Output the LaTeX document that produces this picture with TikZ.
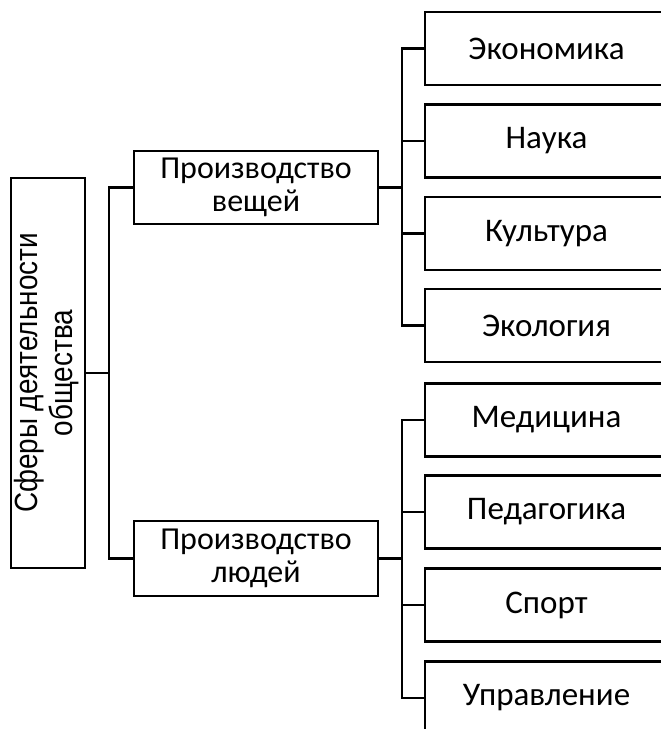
\documentclass[tikz,border=0pt]{standalone}
\usepackage{fontspec}
\newfontfamily\rootfont{Liberation Sans}
\newfontfamily\boxfont{Carlito}
\begin{document}
\begin{tikzpicture}[x=1pt,y=-1pt,
  line width=2.3pt,
  lbox/.style={draw, line width=2.3pt, inner sep=0pt, align=center,
    minimum width=244,
    font=\boxfont\fontsize{32}{33}\selectfont},
  rbox/.style={draw, line width=2.3pt, inner sep=0pt, align=center,
    minimum width=243, minimum height=73,
    font=\boxfont\fontsize{33}{36}\selectfont},
  conn/.style={line width=2.3pt}]
\useasboundingbox (0,0) rectangle (661,729);
\clip (0,0) rectangle (661,729);
% root
\node[draw, line width=2.3pt, inner sep=0pt, rotate=90, minimum width=390, minimum height=74,
  font=\rootfont\fontsize{27.9}{30.5}\selectfont] (root) at (48,373)
  {\raisebox{-3pt}{\scalebox{1}[1.15]{\begin{tabular}{@{}c@{}}Сферы деятельности\\общества\end{tabular}}}};
% level 1
\node[lbox, minimum height=73] (pv) at (256,187.5) {Производство\\вещей};
\node[lbox, minimum height=75] (pl) at (256,558.5) {Производство\\людей};
% level 2
\node[rbox] (a1) at (546.5,48.5) {Экономика};
\node[rbox] (a2) at (546.5,141) {Наука};
\node[rbox] (a3) at (546.5,233.5) {Культура};
\node[rbox] (a4) at (546.5,325.5) {Экология};
\node[rbox] (b1) at (546.5,420) {Медицина};
\node[rbox] (b2) at (546.5,512) {Педагогика};
\node[rbox] (b3) at (546.5,605) {Спорт};
\node[rbox] (b4) at (546.5,698) {Управление};
% connectors
\coordinate (t0) at (109,373);
\coordinate (t1) at (402,187.5);
\coordinate (t2) at (402,558.5);
\draw[conn] (root.south) -- (t0);
\draw[conn] (t0) |- (pv.west);
\draw[conn] (t0) |- (pl.west);
\draw[conn] (pv.east) -- (t1);
\foreach \n in {a1,a2,a3,a4} \draw[conn] (t1) |- (\n.west);
\draw[conn] (pl.east) -- (t2);
\foreach \n in {b1,b2,b3,b4} \draw[conn] (t2) |- (\n.west);
\end{tikzpicture}
\end{document}
